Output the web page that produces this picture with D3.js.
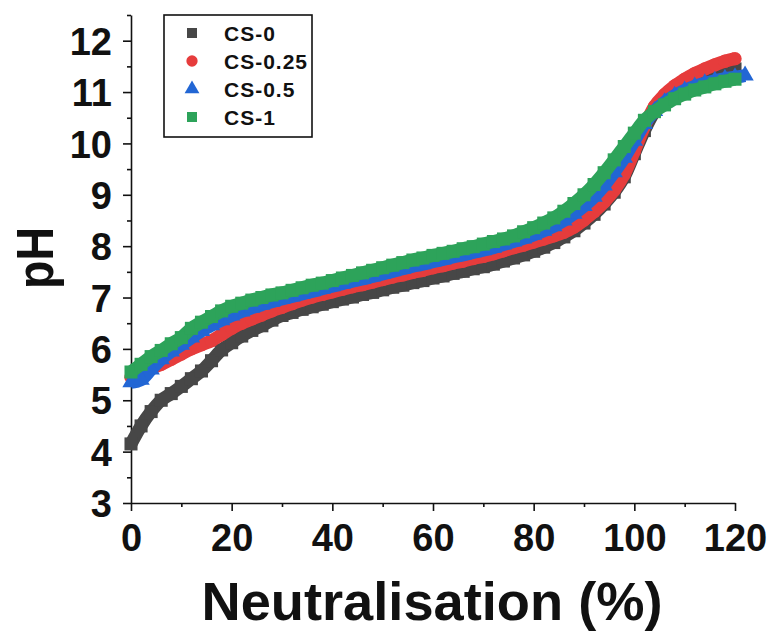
<!DOCTYPE html>
<html>
<head>
<meta charset="utf-8">
<script src="https://cdnjs.cloudflare.com/ajax/libs/d3/7.8.5/d3.min.js"></script>
<style>
  body { margin: 0; background: #fff; }
  text { font-family: "Liberation Sans", Arial, sans-serif; font-weight: bold; fill: #111; }
</style>
</head>
<body>
<svg id="chart" width="778" height="635"></svg>
<script>
// neutralisation (%) at which pH was read, shared by all series
var neutralisation = [0,2,4,6,8,10,12,14,16,18,20,22,24,26,28,30,32,34,36,38,40,
  42,44,46,48,50,52,54,56,58,60,62,64,66,68,70,72,74,76,78,80,
  82,84,86,88,90,92,94,96,98,100,102,104,106,108,110,112,114,116,118,120,122];

var cs0 = [4.15,4.5,4.78,5.0,5.13,5.27,5.42,5.57,5.77,5.98,6.12,6.25,6.36,6.45,6.56,6.65,6.71,6.77,6.82,6.87,6.92,
  6.97,7.01,7.06,7.1,7.15,7.2,7.24,7.29,7.33,7.38,7.42,7.47,7.51,7.56,7.6,7.65,7.71,7.77,7.83,7.9,
  7.98,8.07,8.18,8.3,8.45,8.62,8.82,9.05,9.35,9.8,10.25,10.62,10.85,11.0,11.12,11.22,11.3,11.36,11.41,11.45,null];

var cs025 = [5.45,5.52,5.62,5.7,5.8,5.9,6.0,6.08,6.16,6.28,6.4,6.5,6.58,6.66,6.74,6.81,6.88,6.95,7.01,7.06,7.11,
  7.16,7.21,7.25,7.3,7.35,7.4,7.44,7.49,7.53,7.58,7.62,7.67,7.71,7.76,7.8,7.85,7.91,7.97,8.02,8.08,
  8.14,8.2,8.27,8.37,8.51,8.67,8.86,9.09,9.4,9.85,10.33,10.72,10.95,11.12,11.25,11.36,11.45,11.53,11.6,11.65,null];

var cs05 = [5.35,5.4,5.6,5.8,5.95,6.08,6.22,6.35,6.46,6.56,6.65,6.73,6.8,6.86,6.92,6.97,7.02,7.07,7.12,7.17,7.22,
  7.27,7.32,7.36,7.41,7.46,7.51,7.56,7.61,7.65,7.7,7.74,7.79,7.83,7.88,7.92,7.97,8.03,8.09,8.15,8.22,
  8.3,8.39,8.5,8.63,8.78,8.96,9.18,9.44,9.72,10.05,10.38,10.63,10.8,10.93,11.03,11.11,11.17,11.22,11.26,11.29,11.32];

var cs1 = [5.55,5.7,5.85,5.97,6.1,6.22,6.4,6.52,6.63,6.74,6.83,6.89,6.95,7.0,7.05,7.09,7.14,7.19,7.24,7.28,7.33,
  7.38,7.43,7.48,7.53,7.58,7.63,7.68,7.73,7.77,7.82,7.86,7.9,7.95,7.99,8.04,8.09,8.14,8.2,8.28,8.36,
  8.45,8.55,8.68,8.83,9.0,9.2,9.43,9.68,9.94,10.2,10.45,10.62,10.75,10.87,10.96,11.04,11.1,11.16,11.21,11.25,null];

var seriesNames = ["CS-0", "CS-0.25", "CS-0.5", "CS-1"];
var xTicks = [0,20,40,60,80,100,120];
var yTicks = [3,4,5,6,7,8,9,10,11,12];

var colors = ["#474747", "#e63c3c", "#2266d4", "#2da35a"];
var symbols = [d3.symbolSquare, d3.symbolCircle, d3.symbolTriangle, d3.symbolSquare];
var symbolSizes = [170, 140, 130, 170];

var svg = d3.select("#chart");

var x = d3.scaleLinear().domain([0, 120]).range([131, 735]);
var y = d3.scaleLinear().domain([3, 12.5]).range([503, 15]);

// axes
var xMinor = d3.range(10, 120, 20);
var yMinor = d3.range(3.5, 13, 1);

svg.append("g").attr("transform", "translate(0,503)")
  .call(d3.axisBottom(x).tickValues(xMinor).tickSize(4).tickSizeOuter(0).tickFormat(""))
  .call(function(g) { g.select(".domain").remove(); });
var gx = svg.append("g").attr("transform", "translate(0,503)")
  .call(d3.axisBottom(x).tickValues(xTicks).tickSize(8).tickSizeOuter(0).tickPadding(13));
gx.selectAll("text").style("font-size", "38px");

svg.append("g").attr("transform", "translate(131,0)")
  .call(d3.axisLeft(y).tickValues(yMinor).tickSize(4).tickSizeOuter(0).tickFormat(""))
  .call(function(g) { g.select(".domain").remove(); });
var gy = svg.append("g").attr("transform", "translate(131,0)")
  .call(d3.axisLeft(y).tickValues(yTicks).tickSize(8).tickSizeOuter(0).tickPadding(11));
gy.selectAll("text").style("font-size", "38px").attr("dy", "0.36em");

svg.selectAll(".domain, .tick line").attr("stroke", "#111").attr("stroke-width", 1.6);

// curves
var allSeries = [cs0, cs025, cs05, cs1];
var line = d3.line()
  .defined(function(d) { return d.ph != null; })
  .x(function(d) { return x(d.n); })
  .y(function(d) { return y(d.ph); })
  .curve(d3.curveMonotoneX);

allSeries.forEach(function(vals, i) {
  var pts = neutralisation.map(function(n, k) { return {n: n, ph: vals[k]}; })
    .filter(function(d) { return d.ph != null; });
  var g = svg.append("g").attr("class", "series");
  g.append("path").datum(pts)
    .attr("d", line)
    .attr("fill", "none")
    .attr("stroke", colors[i])
    .attr("stroke-width", 13)
    .attr("stroke-linejoin", "round");
  g.selectAll("path.pt").data(pts).enter().append("path")
    .attr("class", "pt")
    .attr("d", d3.symbol().type(symbols[i]).size(symbolSizes[i]))
    .attr("transform", function(d) { return "translate(" + x(d.n) + "," + y(d.ph) + ")"; })
    .attr("fill", colors[i]);
});

// legend
var legend = svg.append("g");
legend.append("rect")
  .attr("x", 164).attr("y", 15).attr("width", 148).attr("height", 122)
  .attr("fill", "#fff").attr("stroke", "#111").attr("stroke-width", 1.6);
seriesNames.forEach(function(name, i) {
  var ly = 33 + i * 28;
  legend.append("path")
    .attr("d", d3.symbol().type(symbols[i]).size(i === 2 ? 95 : 100))
    .attr("transform", "translate(192," + ly + ")")
    .attr("fill", colors[i]);
  legend.append("text")
    .attr("x", 224).attr("y", ly).attr("dy", "0.36em")
    .style("font-size", "21px").style("letter-spacing", "1px")
    .text(name);
});

// axis titles
svg.append("text")
  .attr("x", 432).attr("y", 620)
  .attr("text-anchor", "middle")
  .attr("textLength", 461).attr("lengthAdjust", "spacingAndGlyphs")
  .style("font-size", "54px")
  .text("Neutralisation (%)");

svg.append("text")
  .attr("transform", "translate(53,258) rotate(-90)")
  .attr("text-anchor", "middle")
  .attr("textLength", 62).attr("lengthAdjust", "spacingAndGlyphs")
  .style("font-size", "52px")
  .text("pH");
</script>
</body>
</html>
